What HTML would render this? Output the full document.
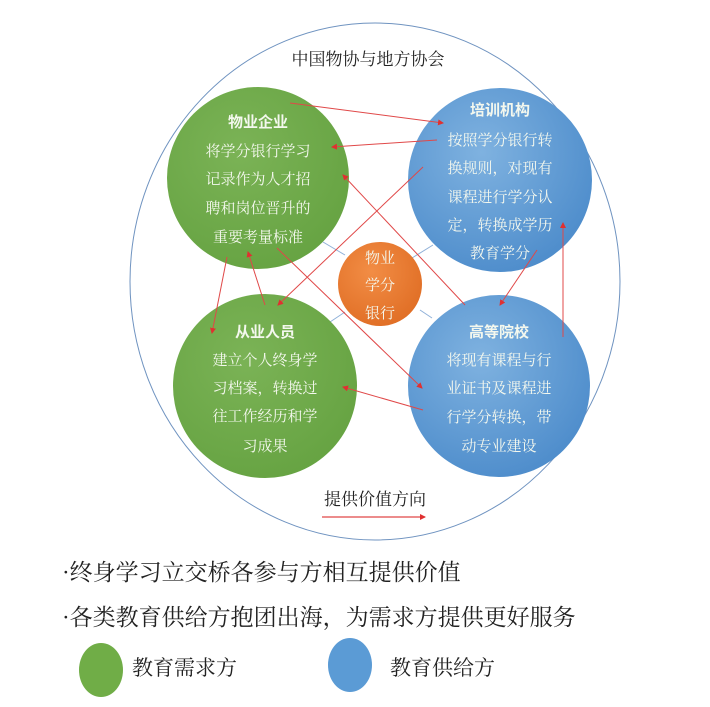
<!DOCTYPE html>
<html><head><meta charset="utf-8"><style>
html,body{margin:0;padding:0;background:#fff;}
svg{display:block;}
.w{fill:#f4f8ee;font-family:"Liberation Serif","Noto Serif CJK SC",serif;font-size:15px;text-anchor:middle;}
.b{font-weight:bold;font-family:"Liberation Sans","Noto Sans CJK SC",sans-serif;font-size:15px;}
.k{fill:#222;font-family:"Liberation Serif","Noto Serif CJK SC",serif;}
</style></head><body>
<svg width="710" height="707" viewBox="0 0 710 707" xmlns="http://www.w3.org/2000/svg">
<defs>
<radialGradient id="bg" cx="40%" cy="35%" r="70%"><stop offset="0" stop-color="#7fb2e0"/><stop offset="1" stop-color="#4d8ccb"/></radialGradient>
<radialGradient id="gg" cx="40%" cy="35%" r="70%"><stop offset="0" stop-color="#7bb356"/><stop offset="1" stop-color="#66a342"/></radialGradient>
<radialGradient id="og" cx="40%" cy="35%" r="70%"><stop offset="0" stop-color="#f28d45"/><stop offset="1" stop-color="#e06e25"/></radialGradient>
<marker id="a" markerWidth="6" markerHeight="6" refX="5" refY="3" orient="auto" markerUnits="userSpaceOnUse"><path d="M0,0 L6,3 L0,6z" fill="#e03030"/></marker>
</defs>
<ellipse cx="375" cy="281.5" rx="245" ry="258.5" fill="none" stroke="#6f93c0" stroke-width="1"/>
<text x="368" y="65" class="k" font-size="17" text-anchor="middle">中国物协与地方协会</text>
<line x1="323" y1="242" x2="345" y2="255" stroke="#8fb0d8" stroke-width="1"/>
<line x1="433" y1="245" x2="412" y2="258" stroke="#8fb0d8" stroke-width="1"/>
<line x1="330" y1="322" x2="345" y2="312" stroke="#8fb0d8" stroke-width="1"/>
<line x1="420" y1="310" x2="432" y2="318" stroke="#8fb0d8" stroke-width="1"/>
<circle cx="258" cy="178" r="91" fill="url(#gg)"/>
<circle cx="500" cy="180" r="92" fill="url(#bg)"/>
<circle cx="265" cy="386" r="92" fill="url(#gg)"/>
<circle cx="499" cy="386" r="91" fill="url(#bg)"/>
<circle cx="380" cy="284" r="42" fill="url(#og)"/>
<g stroke="#e04848" stroke-width="1" fill="none" marker-end="url(#a)">
<line x1="290" y1="103" x2="443" y2="123"/>
<line x1="437" y1="140" x2="332" y2="147"/>
<line x1="465" y1="305" x2="343" y2="175"/>
<line x1="423" y1="167" x2="278" y2="305"/>
<line x1="265" y1="305" x2="248" y2="252"/>
<line x1="227" y1="257" x2="212" y2="333"/>
<line x1="277" y1="248" x2="422" y2="388"/>
<line x1="423" y1="410" x2="343" y2="387"/>
<line x1="537" y1="250" x2="500" y2="305"/>
<line x1="563" y1="337" x2="563" y2="223"/>
</g>
<g class="w">
<text x="258" y="127" class="b">物业企业</text>
<text x="258" y="156">将学分银行学习</text>
<text x="258" y="184">记录作为人才招</text>
<text x="258" y="213">聘和岗位晋升的</text>
<text x="258" y="242">重要考量标准</text>
<text x="500" y="115" class="b">培训机构</text>
<text x="500" y="145">按照学分银行转</text>
<text x="500" y="173">换规则，对现有</text>
<text x="500" y="202">课程进行学分认</text>
<text x="500" y="230">定，转换成学历</text>
<text x="500" y="258">教育学分</text>
<text x="265" y="337" class="b">从业人员</text>
<text x="265" y="365">建立个人终身学</text>
<text x="265" y="393">习档案，转换过</text>
<text x="265" y="421">往工作经历和学</text>
<text x="265" y="451">习成果</text>
<text x="499" y="337" class="b">高等院校</text>
<text x="499" y="365">将现有课程与行</text>
<text x="499" y="393">业证书及课程进</text>
<text x="499" y="422">行学分转换，带</text>
<text x="499" y="451">动专业建设</text>
<text x="380" y="263">物业</text>
<text x="380" y="290">学分</text>
<text x="380" y="318">银行</text>
</g>
<text x="375" y="505" class="k" font-size="17" text-anchor="middle">提供价值方向</text>
<line x1="322" y1="517" x2="425" y2="517" stroke="#e04848" stroke-width="1.2" marker-end="url(#a)"/>
<text x="62" y="580" class="k" font-size="23">·终身学习立交桥各参与方相互提供价值</text>
<text x="62" y="625" class="k" font-size="23">·各类教育供给方抱团出海，为需求方提供更好服务</text>
<ellipse cx="101" cy="670" rx="22" ry="27" fill="#70ad47"/>
<ellipse cx="350" cy="665" rx="22" ry="27" fill="#5b9bd5"/>
<text x="132" y="675" class="k" font-size="21">教育需求方</text>
<text x="390" y="675" class="k" font-size="21">教育供给方</text>
</svg>
</body></html>
